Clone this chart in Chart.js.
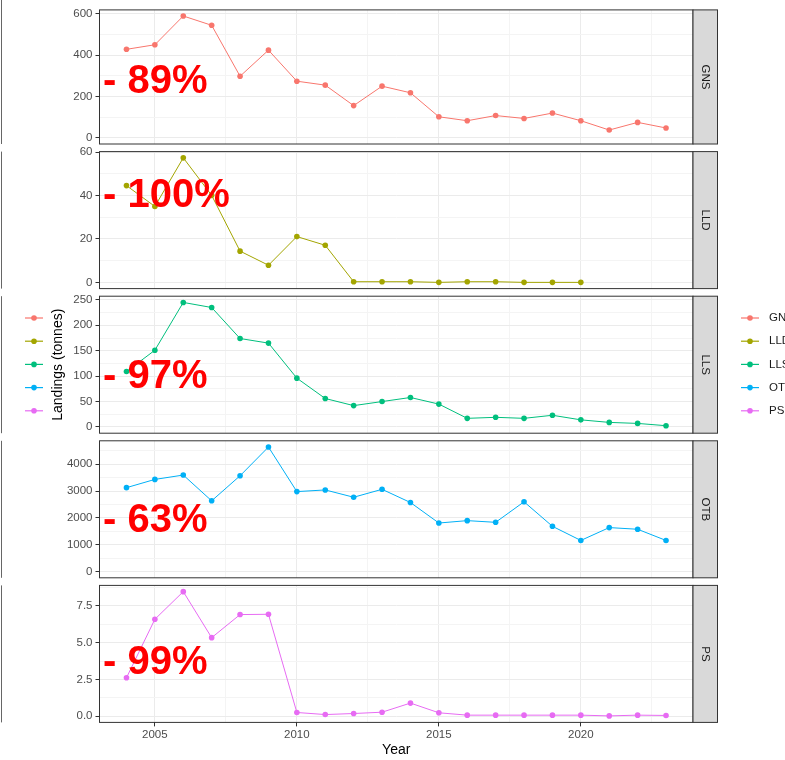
<!DOCTYPE html>
<html><head><meta charset="utf-8">
<script src="https://cdn.jsdelivr.net/npm/chart.js@4.4.1/dist/chart.umd.min.js"></script>
<style>
html,body{margin:0;padding:0;background:#fff;}
#wrap{position:relative;width:785px;height:760px;overflow:hidden;background:#fff;}
canvas{position:absolute;left:0;top:0;}
</style></head><body>
<div id="wrap">
<canvas id="c0" width="785" height="760"></canvas>
<canvas id="c1" width="785" height="760"></canvas>
<canvas id="c2" width="785" height="760"></canvas>
<canvas id="c3" width="785" height="760"></canvas>
<canvas id="c4" width="785" height="760"></canvas>
</div>
<script>
// ---------- data ----------
const years = [2004,2005,2006,2007,2008,2009,2010,2011,2012,2013,2014,2015,2016,2017,2018,2019,2020,2021,2022,2023];
const gearNames = ['GNS','LLD','LLS','OTB','PS'];
const gnsLandings = [428,450,589,544,298,424,274,255,156,250,218,102,83,108,94,120,83,38,75,48];
const lldLandings = [44.6,35,57.4,40.1,14.4,7.9,21.1,17.1,0.3,0.3,0.3,0,0.3,0.3,0,0,0,null,null,null];
const llsLandings = [109,151,245,235,174,165,96,56,42,50,58,45,17,19,17,23,14,9,7,2.5];
const otbLandings = [3125,3432,3594,2635,3568,4638,2978,3040,2768,3063,2572,1808,1897,1834,2598,1686,1159,1638,1576,1159];
const psLandings  = [2.61,6.59,8.47,5.34,6.91,6.93,0.25,0.11,0.18,0.27,0.89,0.23,0.07,0.07,0.07,0.07,0.07,0.02,0.07,0.05];
const changeLabels = ['- 89%','- 100%','- 97%','- 63%','- 99%'];

const gnsTicks = [0,200,400,600];
const lldTicks = [0,20,40,60];
const llsTicks = [0,50,100,150,200,250];
const otbTicks = [0,1000,2000,3000,4000];
const psTicks  = [0,2.5,5,7.5];
const gnsTickLabels = ['0','200','400','600'];
const lldTickLabels = ['0','20','40','60'];
const llsTickLabels = ['0','50','100','150','200','250'];
const otbTickLabels = ['0','1000','2000','3000','4000'];
const psTickLabels  = ['0.0','2.5','5.0','7.5'];
const xTicks = [2005,2010,2015,2020];
const xTickLabels = ['2005','2010','2015','2020'];

// ---------- styling / layout ----------
const seriesValues = [gnsLandings, lldLandings, llsLandings, otbLandings, psLandings];
const yTickSets = [gnsTicks, lldTicks, llsTicks, otbTicks, psTicks];
const yLabelSets = [gnsTickLabels, lldTickLabels, llsTickLabels, otbTickLabels, psTickLabels];
const colors = ['#F8766D','#A3A500','#00BF7D','#00B0F6','#E76BF3'];
const FONT = "'Liberation Sans', Arial, sans-serif";
const panelTops = [7, 151.6, 296.2, 440.8, 585.4];
const PANEL_H = 137;
const PLOT_LEFT = 99.5, PLOT_RIGHT = 693, STRIP_W = 24.5;
const labelBaselines = [93.3, 207.3, 388.3, 532.3, 674.3];
const W = 785, H = 760;

Chart.defaults.font.family = FONT;

const xSpan = years[years.length-1] - years[0];
const X_MIN = years[0] - 0.05*xSpan, X_MAX = years[years.length-1] + 0.05*xSpan;
const xStep = xTicks[1]-xTicks[0];
const xAll = [];
xTicks.forEach(v => { xAll.push(v); if (v + xStep/2 < X_MAX) xAll.push(v + xStep/2); });
if (xTicks[0] - xStep/2 > X_MIN) xAll.unshift(xTicks[0]-xStep/2);

const decor = {
  id: 'panelDecor',
  afterDraw(chart, args, opts) {
    const i = opts.index;
    const {ctx, chartArea: a} = chart;
    const h = a.bottom - a.top;
    ctx.save();
    // panel border
    ctx.strokeStyle = '#333'; ctx.lineWidth = 1;
    ctx.strokeRect(a.left, a.top, a.right - a.left, h);
    // strip
    ctx.fillStyle = '#d9d9d9';
    ctx.fillRect(a.right, a.top, STRIP_W, h);
    ctx.strokeRect(a.right, a.top, STRIP_W, h);
    ctx.save();
    ctx.translate(a.right + STRIP_W/2, (a.top + a.bottom)/2);
    ctx.rotate(Math.PI/2);
    ctx.fillStyle = '#1a1a1a';
    ctx.font = '11.5px ' + FONT;
    ctx.textAlign = 'center'; ctx.textBaseline = 'middle';
    ctx.fillText(gearNames[i], 0, 0);
    ctx.restore();
    // left clipped frame line
    ctx.strokeStyle = '#666';
    ctx.beginPath();
    ctx.moveTo(1.5, i === 0 ? 0 : a.top);
    ctx.lineTo(1.5, a.bottom);
    ctx.stroke();
    // red change label
    ctx.fillStyle = '#ff0000';
    ctx.font = 'bold 40px ' + FONT;
    ctx.textAlign = 'left'; ctx.textBaseline = 'alphabetic';
    ctx.fillText(changeLabels[i], 103, labelBaselines[i]);
    if (i === 4) {
      // shared y title
      ctx.save();
      ctx.translate(58, (panelTops[0] + panelTops[4] + PANEL_H)/2);
      ctx.rotate(-Math.PI/2);
      ctx.fillStyle = '#000';
      ctx.font = '14px ' + FONT;
      ctx.textAlign = 'center'; ctx.textBaseline = 'middle';
      ctx.fillText('Landings (tonnes)', 0, 0);
      ctx.restore();
      // legends (left, clipped-label copy and right)
      gearNames.forEach((g, k) => {
        const y = 318 + k*23.2;
        [[25, 43, 34], [741, 759, 750]].forEach(([x0, x1, xc]) => {
          ctx.strokeStyle = colors[k]; ctx.lineWidth = 1.2;
          ctx.beginPath(); ctx.moveTo(x0, y); ctx.lineTo(x1, y); ctx.stroke();
          ctx.fillStyle = colors[k];
          ctx.beginPath(); ctx.arc(xc, y, 2.8, 0, Math.PI*2); ctx.fill();
        });
        ctx.fillStyle = '#1a1a1a';
        ctx.font = '11.5px ' + FONT;
        ctx.textAlign = 'left'; ctx.textBaseline = 'middle';
        ctx.fillText(g, 769, y);
      });
    }
    ctx.restore();
  }
};

function makePanel(i) {
  const top = panelTops[i], bottom = top + PANEL_H;
  const isLast = i === 4;
  const majors = yTickSets[i];
  const labels = yLabelSets[i];
  const step = majors[1] - majors[0];
  const vals = seriesValues[i];
  const dataMax = Math.max(...vals.filter(v => v != null));
  const yMin = -0.05*dataMax, yMax = 1.05*dataMax;
  const yAll = [];
  majors.forEach(m => { yAll.push(m); if (m + step/2 < yMax) yAll.push(m + step/2); });
  const isMajorY = v => majors.some(m => Math.abs(m - v) < 1e-9);
  const isMajorX = v => xTicks.some(m => Math.abs(m - v) < 1e-9);

  new Chart(document.getElementById('c' + i), {
    type: 'line',
    data: {
      datasets: [{
        label: gearNames[i],
        data: years.map((y, k) => ({x: y, y: vals[k]})),
        borderColor: colors[i],
        backgroundColor: colors[i],
        borderWidth: 1,
        pointRadius: 2.8,
        pointBorderWidth: 0,
        pointHoverRadius: 2.8,
        spanGaps: false,
        tension: 0
      }]
    },
    options: {
      responsive: false,
      animation: false,
      devicePixelRatio: 1,
      events: [],
      layout: {autoPadding: false, padding: {left: 0, right: W - PLOT_RIGHT, top: top, bottom: 0}},
      plugins: {legend: {display: false}, tooltip: {enabled: false}, panelDecor: {index: i}},
      scales: {
        x: {
          type: 'linear', min: X_MIN, max: X_MAX, position: 'bottom',
          afterBuildTicks: s => { s.ticks = xAll.map(v => ({value: v})); },
          afterFit: s => { s.height = H - bottom; },
          grid: {
            color: c => isMajorX(c.tick.value) ? '#ebebeb' : '#f4f4f4',
            lineWidth: 1,
            drawTicks: isLast,
            tickLength: 4,
            tickColor: c => isMajorX(c.tick.value) ? '#333' : 'rgba(0,0,0,0)'
          },
          border: {display: false},
          ticks: {
            display: isLast, autoSkip: false, maxRotation: 0, minRotation: 0, padding: 2,
            color: '#4d4d4d', font: {size: 11.5},
            callback: v => { const k = xTicks.indexOf(v); return k >= 0 ? xTickLabels[k] : ''; }
          },
          title: {display: isLast, text: 'Year', color: '#000', font: {size: 14}, padding: {top: 0, bottom: 1}}
        },
        y: {
          type: 'linear', min: yMin, max: yMax,
          afterBuildTicks: s => { s.ticks = yAll.map(v => ({value: v})); },
          afterFit: s => { s.width = PLOT_LEFT; },
          grid: {
            color: c => isMajorY(c.tick.value) ? '#ebebeb' : '#f4f4f4',
            lineWidth: 1,
            drawTicks: true,
            tickLength: 4,
            tickColor: c => isMajorY(c.tick.value) ? '#333' : 'rgba(0,0,0,0)'
          },
          border: {display: false},
          ticks: {
            autoSkip: false, padding: 3, color: '#4d4d4d', font: {size: 11.5},
            callback: v => { const k = majors.findIndex(m => Math.abs(m - v) < 1e-9); return k >= 0 ? labels[k] : ''; }
          }
        }
      }
    },
    plugins: [decor]
  });
}

for (let i = 0; i < 5; i++) makePanel(i);
</script>
</body></html>
